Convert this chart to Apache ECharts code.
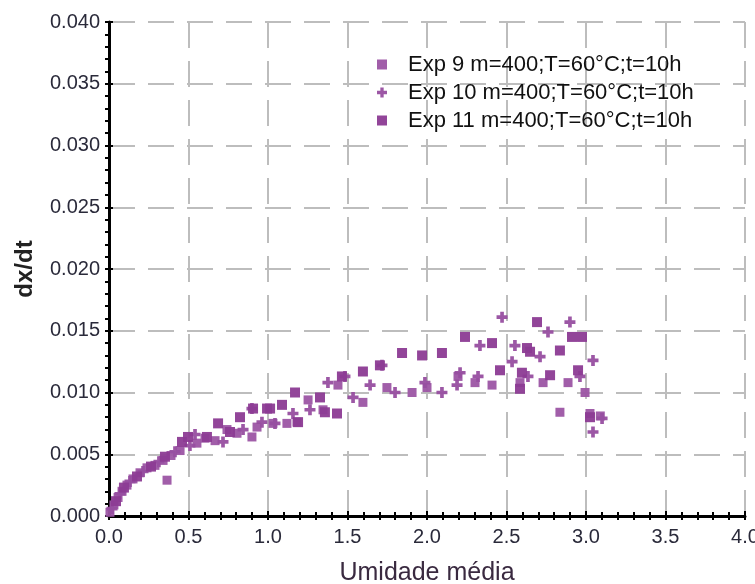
<!DOCTYPE html>
<html>
<head>
<meta charset="utf-8">
<script src="https://cdn.jsdelivr.net/npm/echarts@6/dist/echarts.min.js"></script>
<style>
  html, body { margin: 0; padding: 0; background: #fff; }
  #chart { width: 755px; height: 584px; }
</style>
</head>
<body>
<div id="chart"></div>
<script>
// Axis ranges and ticks
const xTicks = { min: 0, max: 4, step: 0.5 };
const yTicks = { min: 0, max: 0.04, step: 0.005 };

const seriesNames = [
  'Exp 9 m=400;T=60°C;t=10h',
  'Exp 10 m=400;T=60°C;t=10h',
  'Exp 11 m=400;T=60°C;t=10h'
];

// [umidade média, dx/dt]
const exp9 = [
  [0.006,0.0003],[0.031,0.0009],[0.057,0.0015],[0.082,0.0020],[0.113,0.0025],
  [0.151,0.0030],[0.195,0.0035],[0.239,0.0039],[0.289,0.0041],[0.340,0.0045],
  [0.390,0.0049],[0.447,0.0053],[0.365,0.0029],[0.553,0.0059],[0.604,0.0063],
  [0.667,0.0061],[0.742,0.0070],[0.805,0.0067],[0.899,0.0064],[0.931,0.0072],
  [1.031,0.0075],[1.119,0.0075],[1.182,0.0076],[1.252,0.0094],[1.346,0.0086],
  [1.440,0.0106],[1.597,0.0092],[1.748,0.0104],[1.906,0.0100],[2.000,0.0104],
  [2.195,0.0113],[2.302,0.0108],[2.409,0.0106],[2.585,0.0108],[2.730,0.0108],
  [2.836,0.0084],[2.887,0.0108],[2.994,0.0100],[3.025,0.0083],[3.090,0.0081]
];

const exp10 = [
  [0.019,0.0006],[0.069,0.0018],[0.132,0.0028],[0.214,0.0036],[0.314,0.0044],
  [0.415,0.0052],[0.509,0.0057],[0.541,0.0066],[0.717,0.0060],[0.843,0.0070],
  [0.899,0.0087],[0.962,0.0076],[1.044,0.0075],[1.157,0.0083],[1.264,0.0086],
  [1.377,0.0108],[1.484,0.0113],[1.535,0.0096],[1.642,0.0106],[1.717,0.0122],
  [1.799,0.0100],[1.987,0.0108],[2.094,0.0100],[2.189,0.0106],[2.208,0.0116],
  [2.321,0.0113],[2.333,0.0138],[2.472,0.0161],[2.535,0.0125],[2.553,0.0138],
  [2.635,0.0113],[2.711,0.0129],[2.761,0.0149],[2.899,0.0157],[2.962,0.0113],
  [3.044,0.0126],[3.044,0.0068],[3.101,0.0079]
];

const exp11 = [
  [0.044,0.0012],[0.094,0.0023],[0.176,0.0032],[0.264,0.0040],[0.352,0.0048],
  [0.459,0.0060],[0.497,0.0064],[0.616,0.0064],[0.686,0.0075],[0.761,0.0068],
  [0.824,0.0080],[0.906,0.0087],[0.994,0.0087],[1.013,0.0087],[1.088,0.0090],
  [1.170,0.0100],[1.189,0.0076],[1.327,0.0096],[1.358,0.0084],[1.434,0.0083],
  [1.465,0.0113],[1.597,0.0117],[1.704,0.0122],[1.843,0.0132],[1.969,0.0130],
  [2.094,0.0132],[2.239,0.0145],[2.409,0.0140],[2.459,0.0118],[2.585,0.0103],
  [2.597,0.0116],[2.629,0.0136],[2.648,0.0133],[2.692,0.0157],[2.774,0.0114],
  [2.836,0.0134],[2.912,0.0145],[2.950,0.0118],[2.975,0.0145],[3.025,0.0080]
];

const colors = ['#9c55a4', '#974ea0', '#8c3b94'];
const plusPath = 'path://M1,0H2V1H3V2H2V3H1V2H0V1H1Z';

const fontFamily = 'Liberation Sans, Arial, sans-serif';
const gridDash = { color: '#bdbdbd', width: 2, type: [26, 13] };
const tickFont = { fontFamily: fontFamily, fontSize: 20, color: '#2a2a3a' };

const chart = echarts.init(document.getElementById('chart'), null, { renderer: 'canvas' });

chart.setOption({
  animation: false,
  backgroundColor: '#fff',
  grid: { left: 109, top: 22, right: 10, bottom: 68, containLabel: false, outerBoundsMode: 'none' },
  legend: {
    left: 372, top: 48, orient: 'vertical', itemGap: 5,
    itemWidth: 10, itemHeight: 10,
    textStyle: { fontFamily: fontFamily, fontSize: 22, lineHeight: 23, color: '#111', padding: [0, 0, 0, 16] },
    data: [
      { name: seriesNames[0], icon: 'rect' },
      { name: seriesNames[1], icon: plusPath },
      { name: seriesNames[2], icon: 'rect' }
    ]
  },
  xAxis: [
    {
      type: 'value', min: xTicks.min, max: xTicks.max, interval: xTicks.step,
      name: 'Umidade média', nameLocation: 'middle', nameGap: 45,
      nameTextStyle: { fontFamily: fontFamily, fontSize: 25, color: '#3a2a40' },
      axisLine: { show: true, onZero: false, lineStyle: { color: '#000', width: 3 } },
      axisTick: { show: true, inside: true, length: 5, lineStyle: { color: '#000', width: 2 } },
      minorTick: { show: true, splitNumber: 5, length: 4, lineStyle: { color: '#000', width: 2 } },
      axisLabel: Object.assign({ margin: 11, formatter: v => v.toFixed(1) }, tickFont),
      splitLine: { show: true, lineStyle: gridDash }
    },
    {
      type: 'value', position: 'top', min: xTicks.min, max: xTicks.max, interval: xTicks.step,
      axisLine: { show: false },
      axisTick: { show: true, inside: true, length: 4, lineStyle: { color: '#000', width: 2 } },
      minorTick: { show: true, splitNumber: 5, length: 4, lineStyle: { color: '#000', width: 2 } },
      axisLabel: { show: false },
      splitLine: { show: false }
    }
  ],
  yAxis: [
    {
      type: 'value', min: yTicks.min, max: yTicks.max, interval: yTicks.step,
      name: 'dx/dt', nameLocation: 'middle', nameGap: 72, nameRotate: 90,
      nameTextStyle: { fontFamily: fontFamily, fontSize: 24, fontWeight: 'bold', color: '#222' },
      axisLine: { show: true, onZero: false, lineStyle: { color: '#000', width: 3 } },
      axisTick: { show: true, inside: true, length: 4, lineStyle: { color: '#000', width: 2 } },
      axisLabel: Object.assign({ margin: 9, formatter: v => v.toFixed(3) }, tickFont),
      splitLine: { show: true, lineStyle: gridDash }
    },
    {
      type: 'value', position: 'right', min: yTicks.min, max: yTicks.max, interval: yTicks.step,
      axisLine: { show: false },
      axisTick: { show: true, inside: true, length: 4, lineStyle: { color: '#000', width: 2 } },
      minorTick: { show: true, splitNumber: 5, length: 4, lineStyle: { color: '#000', width: 2 } },
      axisLabel: { show: false },
      splitLine: { show: false }
    }
  ],
  series: [
    {
      name: seriesNames[0], type: 'scatter', data: exp9,
      symbol: 'rect', symbolSize: 9, itemStyle: { color: colors[0], opacity: 0.95 }
    },
    {
      name: seriesNames[1], type: 'scatter', data: exp10,
      symbol: plusPath, symbolSize: 11, itemStyle: { color: colors[1], opacity: 0.95 }
    },
    {
      name: seriesNames[2], type: 'scatter', data: exp11,
      symbol: 'rect', symbolSize: 10, itemStyle: { color: colors[2], opacity: 0.95 }
    }
  ]
});
</script>
</body>
</html>
